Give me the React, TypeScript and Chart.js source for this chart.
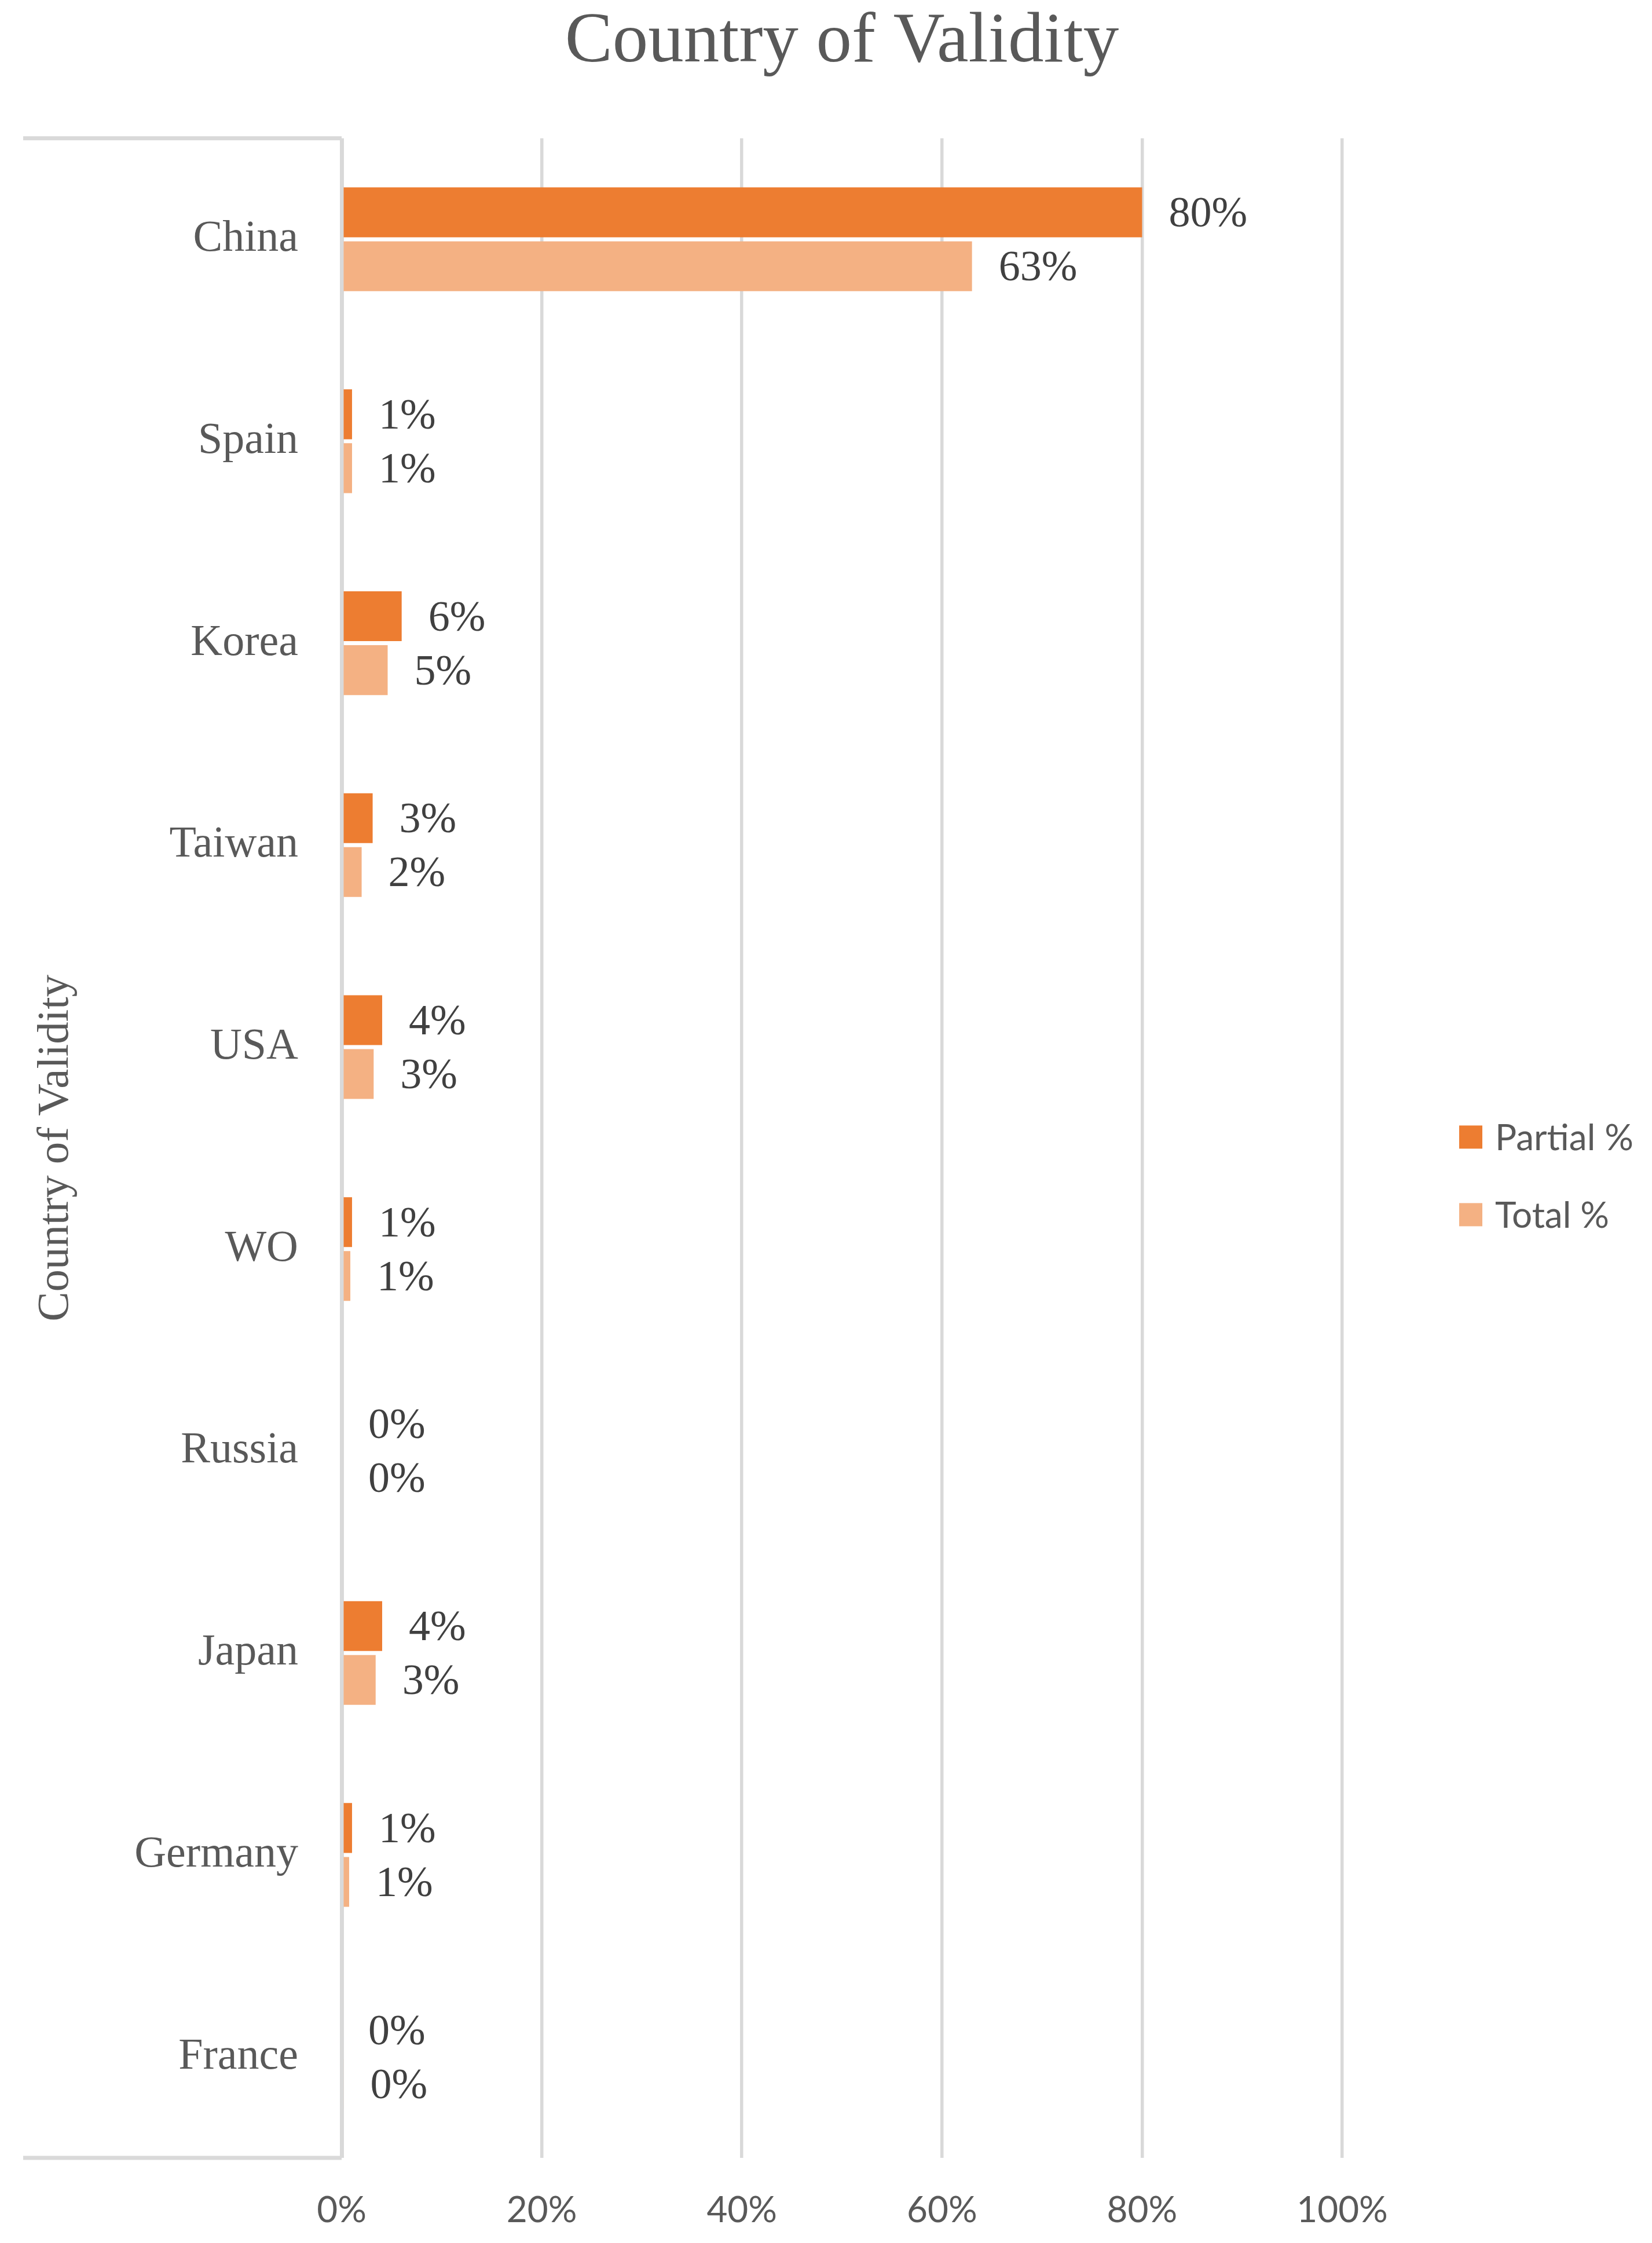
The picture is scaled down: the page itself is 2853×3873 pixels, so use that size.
import React, { useEffect, useRef } from 'react';
import { Chart, registerables } from 'chart.js';

Chart.register(...registerables);

// ---- data ----
const categories = ['China', 'Spain', 'Korea', 'Taiwan', 'USA', 'WO', 'Russia', 'Japan', 'Germany', 'France'];
const partialPct = [0.8, 0.0104, 0.06, 0.031, 0.0405, 0.0104, 0.0, 0.0405, 0.0104, 0.0];
const totalPct = [0.63, 0.0104, 0.046, 0.02, 0.032, 0.0087, 0.0, 0.034, 0.0075, 0.002];
const seriesNames = ['Partial %', 'Total %'];
const seriesColors = ['#ED7D31', '#F4B183'];
const xTickValues = [0, 0.2, 0.4, 0.6, 0.8, 1.0];
const chartTitle = 'Country of Validity';
const axisTitle = 'Country of Validity';

const SERIF = '"Liberation Serif", "Times New Roman", serif';
const SANS = 'Lato, "Open Sans", sans-serif';

const bracketPlugin = {
  id: 'bracketLines',
  beforeDatasetsDraw(chart: any) {
    const { ctx, chartArea } = chart;
    ctx.save();
    ctx.strokeStyle = '#d9d9d9';
    ctx.lineWidth = 7;
    ctx.beginPath();
    ctx.moveTo(40, chartArea.top);
    ctx.lineTo(chartArea.left, chartArea.top);
    ctx.moveTo(40, chartArea.bottom);
    ctx.lineTo(chartArea.left, chartArea.bottom);
    ctx.stroke();
    ctx.restore();
  },
};

const valueLabelPlugin = {
  id: 'valueLabels',
  afterDatasetsDraw(chart: any) {
    const { ctx } = chart;
    ctx.save();
    ctx.font = `74px ${SERIF}`;
    ctx.fillStyle = '#404040';
    ctx.textAlign = 'left';
    ctx.textBaseline = 'middle';
    chart.data.datasets.forEach((ds: any, i: number) => {
      chart.getDatasetMeta(i).data.forEach((el: any, j: number) => {
        const v = ds.data[j] as number;
        ctx.fillText(Math.round(v * 100) + '%', el.x + 46, el.y + 5);
      });
    });
    ctx.restore();
  },
};

const sideLegendPlugin = {
  id: 'sideLegend',
  afterDraw(chart: any) {
    const { ctx, chartArea } = chart;
    const cy = (chartArea.top + chartArea.bottom) / 2 + 48;
    const x = chartArea.right + 202;
    const n = chart.data.datasets.length;
    ctx.save();
    chart.data.datasets.forEach((ds: any, i: number) => {
      const yc = cy + (i - (n - 1) / 2) * 134;
      ctx.fillStyle = ds.backgroundColor;
      ctx.fillRect(x, yc - 20, 40, 40);
      ctx.fillStyle = '#595959';
      ctx.font = `62px ${SANS}`;
      ctx.textAlign = 'left';
      ctx.textBaseline = 'middle';
      ctx.fillText(ds.label, x + 62, yc + 3);
    });
    ctx.restore();
  },
};

export default function App() {
  const ref = useRef<HTMLCanvasElement>(null);

  useEffect(() => {
    document.body.style.margin = '0';
    document.body.style.overflow = 'hidden';
    const canvas = ref.current;
    if (!canvas) return;
    const chart = new Chart(canvas, {
      type: 'bar',
      data: {
        labels: categories,
        datasets: [
          {
            label: seriesNames[0],
            data: partialPct,
            backgroundColor: seriesColors[0],
            borderWidth: 0,
            barPercentage: 0.925,
            categoryPercentage: 0.5336,
          },
          {
            label: seriesNames[1],
            data: totalPct,
            backgroundColor: seriesColors[1],
            borderWidth: 0,
            barPercentage: 0.925,
            categoryPercentage: 0.5336,
          },
        ],
      },
      options: {
        indexAxis: 'y',
        responsive: false,
        maintainAspectRatio: false,
        devicePixelRatio: 1,
        animation: false,
        layout: { padding: { top: 6, left: 51, right: 535, bottom: 0 } },
        plugins: {
          legend: { display: false },
          tooltip: { enabled: false },
          title: {
            display: true,
            text: chartTitle,
            fullSize: false,
            color: '#595959',
            font: { family: SERIF, size: 123, weight: 'normal', lineHeight: 1.1 },
            padding: { top: 0, bottom: 97.5 },
          },
        },
        scales: {
          x: {
            type: 'linear',
            position: 'bottom',
            min: 0,
            max: 1,
            afterBuildTicks: (s: any) => {
              s.ticks = xTickValues.map((v) => ({ value: v }));
            },
            afterFit: (s: any) => {
              s.height = 147;
            },
            grid: {
              color: '#d9d9d9',
              lineWidth: (c: any) => (c.index === 0 ? 7 : 5.5),
              drawTicks: false,
            },
            border: { display: false },
            ticks: {
              padding: 54,
              color: '#595959',
              font: { family: SANS, size: 62 },
              callback: (v: any) => Math.round(Number(v) * 100) + '%',
            },
          },
          y: {
            type: 'category',
            position: 'left',
            afterFit: (s: any) => {
              s.width = 539;
            },
            grid: { display: false },
            border: { display: false },
            ticks: {
              padding: 67,
              autoSkip: false,
              color: '#595959',
              font: { family: SERIF, size: 76 },
            },
            title: {
              display: true,
              text: axisTitle,
              color: '#595959',
              font: { family: SERIF, size: 77, weight: 'normal' },
              padding: { top: 0, bottom: 0 },
            },
          },
        },
      },
      plugins: [bracketPlugin, valueLabelPlugin, sideLegendPlugin],
    } as any);
    return () => chart.destroy();
  }, []);

  return (
    <div style={{ width: 2853, height: 3873, background: '#ffffff' }}>
      <canvas ref={ref} width={2853} height={3873} style={{ display: 'block', width: 2853, height: 3873 }} />
    </div>
  );
}
